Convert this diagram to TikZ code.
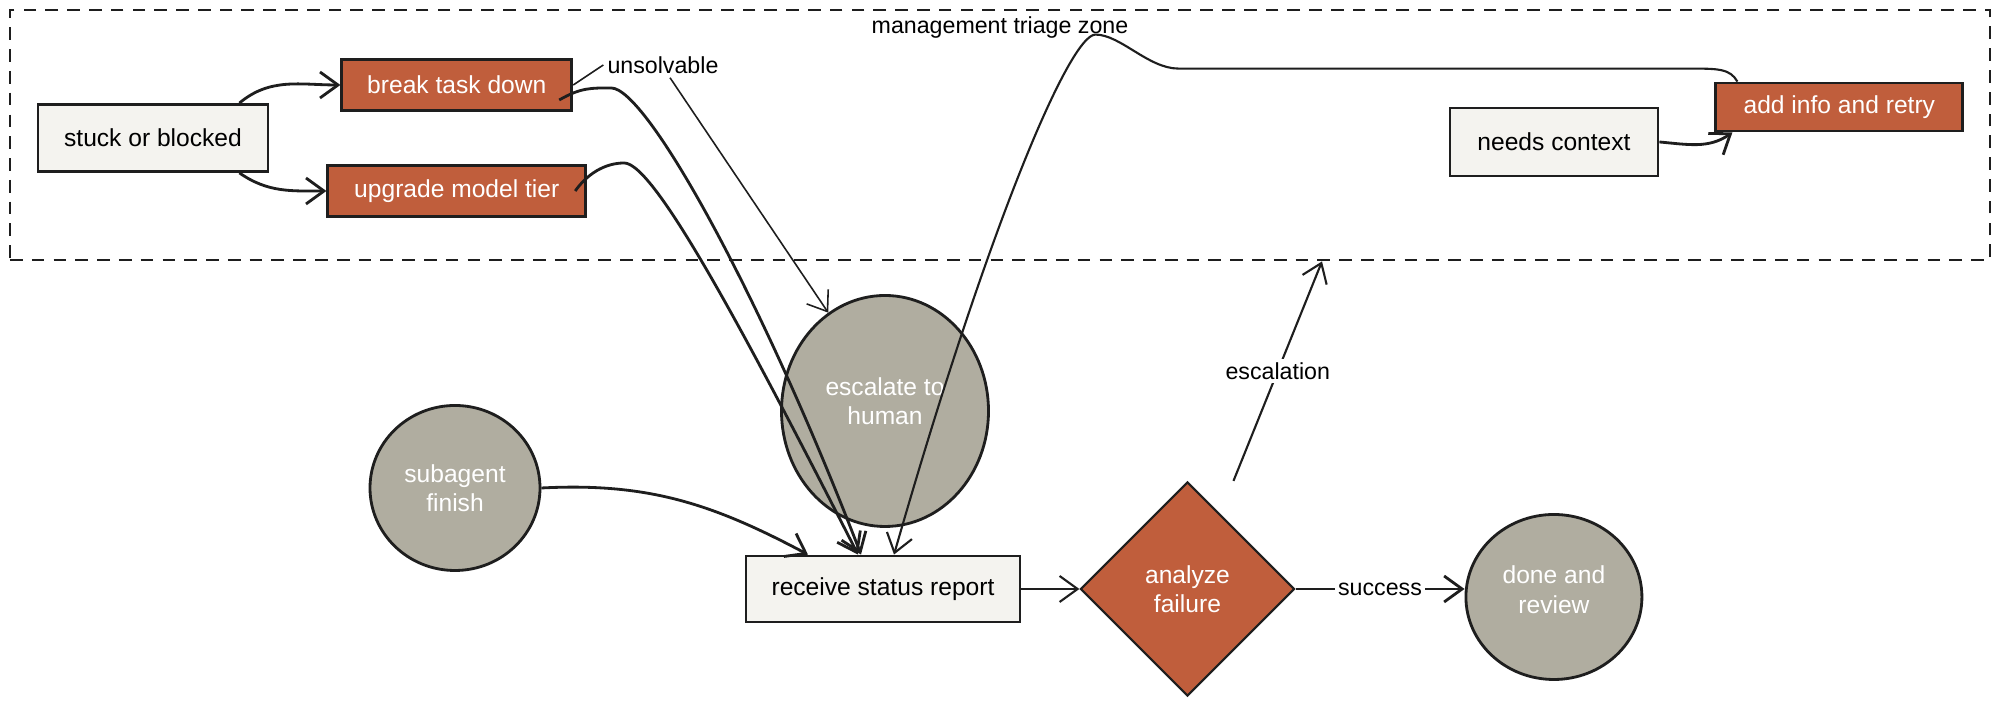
\documentclass[tikz,border=0pt]{standalone}
\usepackage{fontspec}
\setmainfont{Liberation Sans}
\usetikzlibrary{shapes.geometric, arrows.meta, positioning}
\definecolor{RustRed}{RGB}{192, 94, 60}
\definecolor{StoneGrey}{RGB}{176, 173, 160}
\definecolor{PaperWhite}{RGB}{244, 243, 239}
\definecolor{InkBlack}{RGB}{30, 30, 30}
\tikzset{
    plainbox/.style={
        rectangle,
        draw=InkBlack,
        fill=PaperWhite,
        line width=0.8pt,
        align=center,
        inner sep=0pt,
        font=\fontsize{7}{8.4}\selectfont
    },
    rustbox/.style={
        plainbox,
        fill=RustRed,
        text=white
    },
    stonecircle/.style={
        ellipse,
        draw=InkBlack,
        fill=StoneGrey,
        line width=0.8pt,
        text=white,
        align=center,
        inner sep=0pt,
        font=\fontsize{7}{8.4}\selectfont
    },
    decision/.style={
        diamond,
        aspect=1,
        draw=InkBlack,
        fill=RustRed,
        line width=0.6pt,
        text=white,
        align=center,
        inner sep=0pt,
        font=\fontsize{7}{8.4}\selectfont
    },
    % dashed frame round the triage nodes
    zonebox/.style={
        rectangle,
        draw=InkBlack,
        line width=0.8pt,
        dash pattern=on 3.6pt off 2.6pt
    },
    edgelabel/.style={
        font=\fontsize{6.6}{8}\selectfont,
        inner sep=1pt
    },
    flow/.style={
        -{Straight Barb[length=1.8mm,width=2.6mm]},
        line width=0.8pt,
        draw=InkBlack
    },
    thinflow/.style={
        flow,
        line width=0.45pt
    },
}
\begin{document}
\begin{tikzpicture}
    \fill[white] (0,0) rectangle (20,7.08);
    \useasboundingbox (0,0) rectangle (20,7.08);

    \node[zonebox, minimum width=19.8cm, minimum height=2.5cm] (zone) at (10,5.73) {};
    \node[edgelabel] (zonetitle) at ([yshift=-1.9mm]zone.north) {management triage zone};

    \node[plainbox, minimum width=2.30cm, minimum height=0.67cm] (stuck) at (1.53,5.70) {stuck or blocked};
    \node[rustbox, minimum width=2.30cm, minimum height=0.51cm, right=0.71cm of stuck, yshift=5.3mm] (brk) {break task down};
    \node[rustbox, minimum width=2.58cm, minimum height=0.51cm, right=0.57cm of stuck, yshift=-5.3mm] (upg) {upgrade model tier};
    \node[edgelabel] (unsolv) at (6.63,6.43) {unsolvable};
    \node[plainbox, minimum width=2.08cm, minimum height=0.68cm] (needs) at (15.54,5.66) {needs context};
    \node[rustbox, minimum width=2.47cm, minimum height=0.48cm, right=0.55cm of needs, yshift=3.5mm] (addinfo) {add info and retry};

    \node[stonecircle, minimum width=2.07cm, minimum height=2.31cm, text depth=5.7pt] (esc) at (8.85,2.97) {escalate to\\human};
    \node[stonecircle, minimum width=1.70cm, minimum height=1.65cm] (sub) at (4.55,2.20) {subagent\\finish};
    \node[plainbox, minimum width=2.74cm, minimum height=0.66cm] (rsr) at (8.83,1.19) {receive status report};
    \node[decision, minimum width=2.14cm, minimum height=2.14cm, right=0.58cm of rsr] (afl) {analyze\\failure};
    \node[stonecircle, minimum width=1.76cm, minimum height=1.65cm, text depth=4.3pt, right=1.69cm of afl, yshift=-0.8mm] (done) {done and\\review};

    \draw[flow] ([xshift=-3mm]stuck.north east) to[out=40,in=180] (brk.west);
    \draw[flow] ([xshift=-3mm]stuck.south east) to[out=-35,in=180] (upg.west);
    \draw[thinflow] (brk.east) -- (unsolv.west) ([xshift=0.7mm]unsolv.south) -- (esc.120);
    \draw[flow] ([xshift=-1.4mm,yshift=-1.5mm]brk.east) .. controls +(30:0.25) and +(180:0.2) .. ++(0.52,0.12)
        .. controls +(0:0.35) and +(111:2.8) .. ([xshift=-2.2mm]rsr.north);
    \draw[flow] ([xshift=-1.2mm]upg.east) .. controls +(55:0.2) and +(180:0.2) .. ++(0.49,0.28)
        .. controls +(0:0.3) and +(117:2.5) .. ([xshift=-2.5mm]rsr.north);
    \draw[flow] (sub.east) to[out=3,in=152] ([xshift=-7.5mm]rsr.north);
    \draw[flow, line width=0.6pt] ([xshift=2.3mm]addinfo.north west) .. controls +(120:0.15) and +(0:0.3) .. ++(-0.49,0.13)
        -- ++(-5.10,0) .. controls +(-0.3,0) and +(0.25,0) .. ++(-0.83,0.34)
        .. controls +(-0.25,0) and +(74:3.5) .. ([xshift=1.1mm]rsr.north);
    \draw[flow] (needs.east) to[out=-5,in=215] ([xshift=1.8mm]addinfo.south west);
    \draw[flow, line width=0.6pt] (rsr.east) -- (afl.west);
    \draw[flow] (afl.east) -- node[edgelabel, fill=white] (succlbl) {success} (afl.east -| done.west);
    \draw[flow, line width=0.6pt] ([xshift=4.6mm]afl.north) -- node[edgelabel, fill=white] (esclbl) {escalation} ([xshift=3.22cm]zone.south);
\end{tikzpicture}
\end{document}
